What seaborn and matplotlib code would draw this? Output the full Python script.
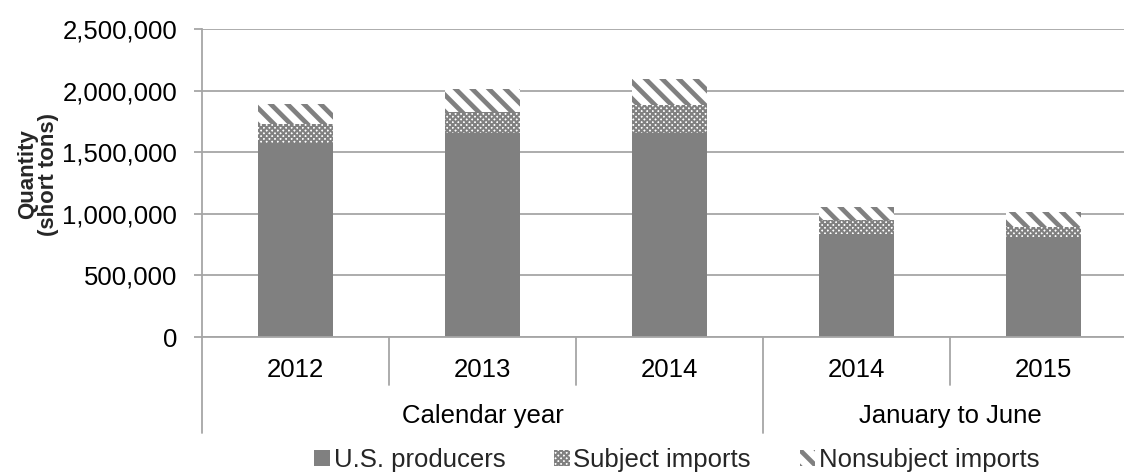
import matplotlib
matplotlib.use("Agg")
import matplotlib.pyplot as plt
import matplotlib.transforms as mtransforms
from matplotlib.ticker import FuncFormatter
import seaborn as sns
import pandas as pd

# ---- data (short tons) ----
period_keys = ["CY2012", "CY2013", "CY2014", "JJ2014", "JJ2015"]
tick_labels = ["2012", "2013", "2014", "2014", "2015"]
group_labels = ["Calendar year", "January to June"]
group_sizes = [3, 2]
us_producers = [1578000, 1655000, 1655000, 840000, 800000]
subject_imports = [153000, 170000, 228000, 106000, 90000]
nonsubject_imports = [160000, 185000, 210000, 113000, 128000]
series_names = ["U.S. producers", "Subject imports", "Nonsubject imports"]

df = pd.DataFrame({
    "period": period_keys,
    "us": us_producers,
    "subj": subject_imports,
    "nonsubj": nonsubject_imports,
})
df["base2"] = df["us"]
df["base3"] = df["us"] + df["subj"]

sns.set_theme(style="white")
plt.rcParams["font.family"] = ["Liberation Sans", "DejaVu Sans"]
plt.rcParams["hatch.color"] = "#808080"

GRID = "#A6A6A6"
BAR = "#808080"
FS = 18.5
LW_CHECK = 1.5
LW_STRIPE = 3.4

W, H = 1124, 473
fig = plt.figure(figsize=(W / 100, H / 100), dpi=100)
ax_left, ax_right, ax_top, ax_bottom = 202, 1137, 29, 337
ax = fig.add_axes([ax_left / W, (H - ax_bottom) / H,
                   (ax_right - ax_left) / W, (ax_bottom - ax_top) / H])

sns.barplot(data=df, x="period", y="us", order=period_keys, color=BAR,
            saturation=1, width=0.4, errorbar=None, linewidth=0, ax=ax)
with plt.rc_context({"hatch.linewidth": LW_CHECK}):
    sns.barplot(data=df, x="period", y="subj", order=period_keys, bottom=df["base2"],
                color="white", saturation=1, width=0.4, errorbar=None,
                edgecolor=BAR, linewidth=0, hatch="xxxxxx", ax=ax)
with plt.rc_context({"hatch.linewidth": LW_STRIPE}):
    sns.barplot(data=df, x="period", y="nonsubj", order=period_keys, bottom=df["base3"],
                color="white", saturation=1, width=0.4, errorbar=None,
                edgecolor=BAR, linewidth=0, hatch="\\\\", ax=ax)

for cont, lw in zip(ax.containers[1:], [LW_CHECK, LW_STRIPE]):
    for p in cont:
        if hasattr(p, "set_hatch_linewidth"):
            p.set_hatch_linewidth(lw)

if ax.get_legend() is not None:
    ax.get_legend().remove()

ax.set_xlim(-0.5, len(period_keys) - 0.5)
ax.set_ylim(0, 2500000)
ax.set_yticks([0, 500000, 1000000, 1500000, 2000000, 2500000])
ax.yaxis.set_major_formatter(FuncFormatter(lambda v, p: f"{v:,.0f}"))
ax.set_xticks(range(len(period_keys)))
ax.set_xticklabels(tick_labels)
ax.set_xlabel("")
ax.set_ylabel("")
ax.tick_params(axis="y", length=5.8, width=1.3, color=GRID, pad=12,
               labelsize=FS, labelcolor="black", left=True, direction="out")
ax.tick_params(axis="x", length=0, pad=15, labelsize=FS, labelcolor="black")
ax.yaxis.grid(True, color=GRID, linewidth=1.3)
ax.set_axisbelow(True)
for s in ["top", "right"]:
    ax.spines[s].set_visible(False)
for s in ["left", "bottom"]:
    ax.spines[s].set_color(GRID)
    ax.spines[s].set_linewidth(1.3)

# category separators below the axis (multi-level axis)
trans = mtransforms.blended_transform_factory(ax.transData, fig.transFigure)
y0 = (H - ax_bottom) / H
y_short = (H - 385) / H
y_long = (H - 433) / H
boundaries = []
start = 0
for g in group_sizes:
    boundaries.append((start - 0.5, True))
    for k in range(1, g):
        boundaries.append((start + k - 0.5, False))
    start += g
boundaries.append((start - 0.5, True))
for xb, long_ in boundaries:
    ax.plot([xb, xb], [y0, y_long if long_ else y_short], transform=trans,
            color=GRID, lw=1.3, clip_on=False)

start = 0
for lab, g in zip(group_labels, group_sizes):
    ax.text(start + (g - 1) / 2, (H - 416) / H, lab, transform=trans,
            ha="center", va="center", fontsize=FS, color="black")
    start += g

fig.text(38 / W, (H - 174.5) / H, "Quantity\n(short tons)", rotation=90,
         ha="center", va="center", fontsize=16, fontweight="bold",
         multialignment="center", linespacing=1.0)

handles = list(ax.containers)
leg = fig.legend(handles, series_names, loc="center", bbox_to_anchor=(677 / W, (H - 460) / H),
                 ncol=3, frameon=False, fontsize=FS, handlelength=0.6, handleheight=0.6,
                 handletextpad=0.15, columnspacing=1.9, borderpad=0, borderaxespad=0)
for h, lw in zip(leg.legend_handles[1:], [LW_CHECK, LW_STRIPE]):
    if hasattr(h, "set_hatch_linewidth"):
        h.set_hatch_linewidth(lw)

fig.savefig("out.png", dpi=100)
